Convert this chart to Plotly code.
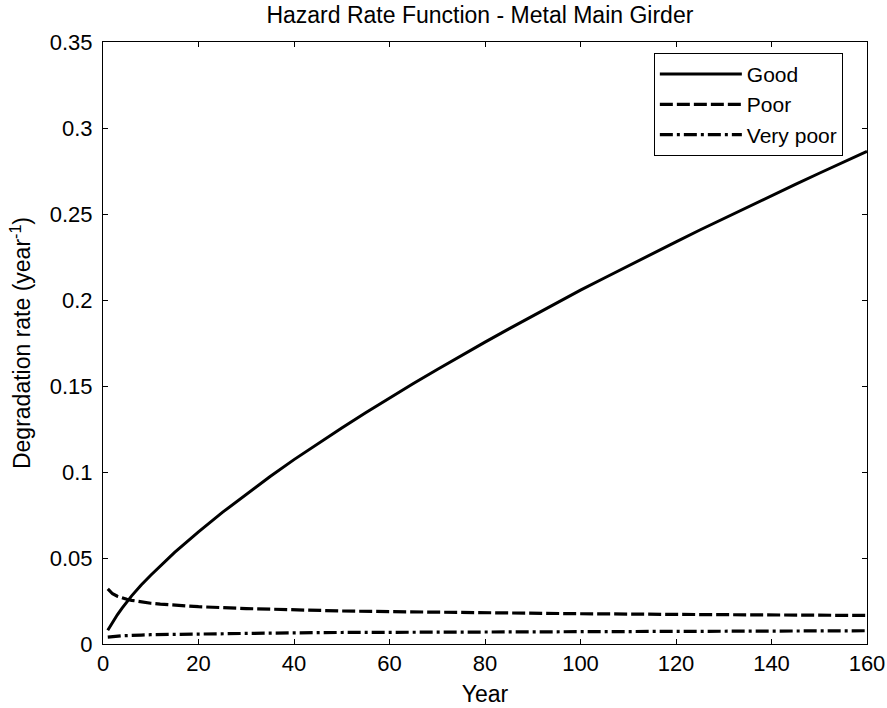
import plotly.graph_objects as go

# Values
years_good = [1, 2, 3, 4, 5, 6, 8, 10, 15, 20, 25, 30, 35, 40, 45, 50, 55, 60, 65, 70, 75, 80,
              85, 90, 95, 100, 105, 110, 115, 120, 125, 130, 135, 140, 145, 150, 155, 160]
good = [0.0080, 0.0128, 0.0170, 0.0209, 0.0246, 0.0280, 0.0343, 0.0400, 0.0533, 0.0652, 0.0765,
        0.0872, 0.0974, 0.1072, 0.1166, 0.1256, 0.1345, 0.1431, 0.1515, 0.1596, 0.1677, 0.1755,
        0.1832, 0.1908, 0.1982, 0.2057, 0.2128, 0.2199, 0.2270, 0.2338, 0.2407, 0.2474, 0.2541,
        0.2607, 0.2672, 0.2737, 0.2801, 0.2864]

years_other = [1, 2, 3, 4, 5, 6, 8, 10, 12, 15, 20, 30, 40, 50, 60, 80, 100, 120, 140, 160]
poor = [0.0320, 0.0292, 0.0278, 0.0267, 0.0260, 0.0254, 0.0244, 0.0237, 0.0232, 0.0225, 0.0217,
        0.0206, 0.0198, 0.0192, 0.0188, 0.0181, 0.0176, 0.0172, 0.0168, 0.0166]
very_poor = [0.0040, 0.0044, 0.0046, 0.0048, 0.0049, 0.0051, 0.0052, 0.0054, 0.0055, 0.0057, 0.0059,
             0.0062, 0.0065, 0.0067, 0.0068, 0.0071, 0.0073, 0.0074, 0.0076, 0.0077]

x_ticks = [0, 20, 40, 60, 80, 100, 120, 140, 160]
y_ticks = [0, 0.05, 0.1, 0.15, 0.2, 0.25, 0.3, 0.35]
y_tick_text = ["0", "0.05", "0.1", "0.15", "0.2", "0.25", "0.3", "0.35"]

FONT = "Liberation Sans, Arial, sans-serif"

fig = go.Figure()
fig.add_trace(go.Scatter(x=years_good, y=good, mode="lines", name="Good",
                         line=dict(color="black", width=3)))
fig.add_trace(go.Scatter(x=years_other, y=poor, mode="lines", name="Poor",
                         line=dict(color="black", width=3.2, dash="13px,4px")))
fig.add_trace(go.Scatter(x=years_other, y=very_poor, mode="lines", name="Very poor",
                         line=dict(color="black", width=3.2, dash="13px,4px,3px,4px")))

axis_common = dict(showline=True, linecolor="black", linewidth=1, mirror="allticks",
                   ticks="inside", ticklen=5, tickwidth=1, tickcolor="black",
                   showgrid=False, zeroline=False, automargin=False,
                   tickfont=dict(family=FONT, size=22, color="black"))

fig.update_layout(
    width=887, height=708,
    margin=dict(l=103, r=20, t=42, b=64),
    paper_bgcolor="white", plot_bgcolor="white",
    font=dict(family=FONT, color="black"),
    title=dict(text="Hazard Rate Function - Metal Main Girder", x=0.541, xanchor="center",
               y=0.99, yanchor="top", font=dict(family=FONT, size=23, color="black")),
    xaxis=dict(range=[0, 160], tickvals=x_ticks, ticktext=[str(v) for v in x_ticks],
               title=dict(text="Year", font=dict(family=FONT, size=23, color="black"), standoff=10),
               **axis_common),
    yaxis=dict(range=[0, 0.35], tickvals=y_ticks, ticktext=y_tick_text, ticklabelstandoff=5,
               title=dict(text="Degradation rate (year<sup>-1</sup>)", font=dict(family=FONT, size=23, color="black"), standoff=12),
               **axis_common),
    legend=dict(x=0.721, y=0.982, xanchor="left", yanchor="top",
                bgcolor="white", bordercolor="black", borderwidth=1,
                font=dict(family=FONT, size=21, color="black"),
                itemwidth=82, tracegroupgap=0),
    showlegend=True,
)

fig.write_html("out.html")
